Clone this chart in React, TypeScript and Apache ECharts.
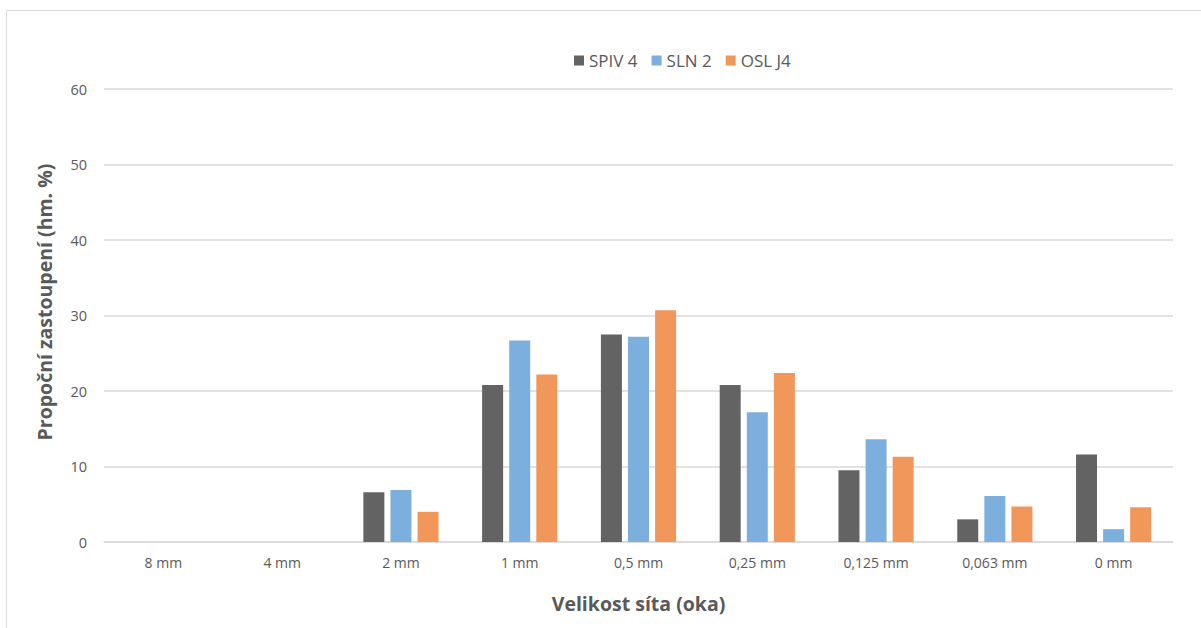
import React, { useEffect, useRef } from "react";
import * as echarts from "echarts";

const categories = ["8 mm", "4 mm", "2 mm", "1 mm", "0,5 mm", "0,25 mm", "0,125 mm", "0,063 mm", "0 mm"];
const spiv4 = [0, 0, 6.6, 20.8, 27.5, 20.8, 9.5, 3.0, 11.6];
const sln2 = [0, 0, 6.9, 26.7, 27.2, 17.2, 13.6, 6.1, 1.7];
const oslJ4 = [0, 0, 4.0, 22.2, 30.7, 22.4, 11.3, 4.7, 4.6];
const yTicks = { min: 0, max: 60, interval: 10 };
const xTitle = "Velikost síta (oka)";
const yTitle = "Propoční zastoupení (hm. %)";

const FONT = "'Open Sans', 'Noto Sans', sans-serif";
const TXT = "#595959";

export default function App() {
  const ref = useRef<HTMLDivElement>(null);
  useEffect(() => {
    const chart = echarts.init(ref.current!, null, { renderer: "svg" });
    const mk = (name: string, data: number[], color: string) => ({
      name,
      type: "bar",
      data,
      barWidth: 21,
      barGap: "29%",
      itemStyle: { color },
    });
    chart.setOption({
      animation: false,
      backgroundColor: "#ffffff",
      textStyle: { fontFamily: FONT },
      graphic: [
        {
          type: "rect",
          shape: { x: 6.5, y: 10.5, width: 1300, height: 700 },
          style: { fill: "none", stroke: "#d9d9d9", lineWidth: 1 },
          silent: true,
        },
        {
          type: "text",
          x: 44,
          y: 302,
          rotation: Math.PI / 2,
          style: {
            text: yTitle,
            fill: TXT,
            fontSize: 19.5,
            fontWeight: "bold",
            fontFamily: FONT,
            align: "center",
            verticalAlign: "middle",
          },
          silent: true,
        },
      ],
      legend: {
        left: 569,
        top: 47,
        itemWidth: 10,
        itemHeight: 10,
        itemGap: 14,
        icon: "rect",
        textStyle: { color: TXT, fontSize: 17, fontFamily: FONT },
        data: ["SPIV 4", "SLN 2", "OSL J4"],
      },
      grid: { left: 104, right: 28, top: 89, bottom: 86, containLabel: false },
      xAxis: {
        type: "category",
        data: categories,
        axisLine: { lineStyle: { color: "#d9d9d9", width: 1.5 } },
        axisTick: { show: false },
        axisLabel: { color: TXT, fontSize: 14, margin: 13, fontFamily: FONT },
        name: xTitle,
        nameLocation: "middle",
        nameGap: 51,
        nameTextStyle: { color: TXT, fontSize: 19.5, fontWeight: "bold", fontFamily: FONT },
      },
      yAxis: {
        type: "value",
        min: yTicks.min,
        max: yTicks.max,
        interval: yTicks.interval,
        axisLine: { show: false },
        axisTick: { show: false },
        splitLine: { lineStyle: { color: "#d9d9d9", width: 1.5 } },
        axisLabel: { color: TXT, fontSize: 14.5, margin: 17, fontFamily: FONT },
      },
      series: [mk("SPIV 4", spiv4, "#636363"), mk("SLN 2", sln2, "#7cafdd"), mk("OSL J4", oslJ4, "#f1975a")],
    });
    return () => chart.dispose();
  }, []);
  return <div ref={ref} style={{ width: 1201, height: 628, position: "absolute", left: 0, top: 0 }} />;
}
